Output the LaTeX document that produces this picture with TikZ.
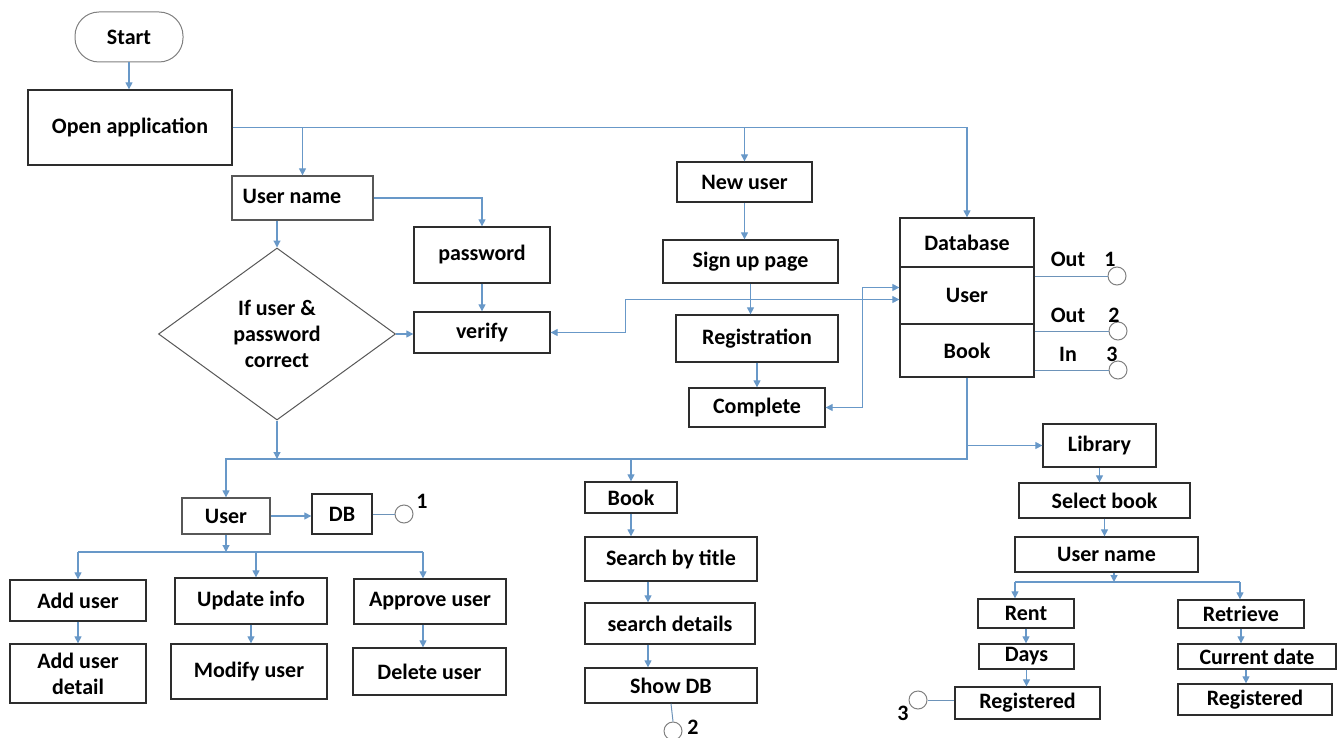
\documentclass[tikz,border=0pt]{standalone}
\usepackage{fontspec}
\setmainfont{Carlito}
\usetikzlibrary{arrows.meta,shapes.geometric,calc}
\definecolor{lnk}{RGB}{104,152,200}
\definecolor{bdr}{RGB}{45,45,45}
\begin{document}
\begin{tikzpicture}[x=1pt,y=-1pt,
  txt/.style={font=\fontsize{22}{26}\selectfont\bfseries},
  box/.style={txt,draw=bdr,line width=1.3pt,rectangle,inner sep=0pt,align=center},
  circ/.style={circle,draw=gray,line width=1pt,minimum size=18pt,inner sep=0pt},
  lbl/.style={txt,inner sep=0pt},
  conn/.style={draw=lnk,line width=1.2pt,-{Triangle[width=7pt,length=7pt]}},
  conn2/.style={draw=lnk,line width=1.2pt,{Triangle[width=7pt,length=7pt]}-{Triangle[width=7pt,length=7pt]}},
  line/.style={draw=lnk,line width=1.2pt},
  line2/.style={draw=lnk!80!gray,line width=1pt}]
\useasboundingbox (0,0) rectangle (1340,738);

% top section
\node[txt,draw=gray,line width=1pt,rounded corners=24pt,minimum width=108pt,minimum height=50pt] (start) at (129,37) {Start};
\node[box,minimum width=204pt,minimum height=75pt] (open) at (130,127.5) {Open application};
\node[box,draw=bdr!80,minimum width=141pt,minimum height=44pt] (un) at (302.5,198) {};
\node[lbl] at (292,196) {User name};
\node[box,minimum width=136pt,minimum height=56pt] (pw) at (482,255) {password};
\node[box,minimum width=136pt,minimum height=41pt] (ver) at (482,332.5) {verify};
\node[txt,draw=bdr!80,line width=1pt,diamond,aspect=1.378,minimum width=237pt,minimum height=172pt,inner sep=0pt,align=center] (dia) at (277,334) {If user \&\\password\\correct};

\node[box,minimum width=135pt,minimum height=40pt] (nu) at (744.5,182) {New user};
\node[box,minimum width=175pt,minimum height=43pt] (su) at (750.5,261.5) {Sign up page};
\node[box,minimum width=162pt,minimum height=47pt] (reg) at (757,338.5) {Registration};
\node[box,minimum width=136pt,minimum height=39pt] (comp) at (757,407.5) {Complete};

\node[box,minimum width=134pt,minimum height=49pt] (dbt) at (967,242.5) {Database};
\node[box,minimum width=134pt,minimum height=57pt] (dbu) at (967,295.5) {User};
\node[box,minimum width=134pt,minimum height=53pt] (dbb) at (967,350.5) {Book};

\node[circ] (c4) at (1117,276) {};
\node[circ] (c5) at (1118,331) {};
\node[circ] (c6) at (1118,370) {};
\node[lbl] at (1068,259) {Out};
\node[lbl] at (1110,259) {1};
\node[lbl] at (1068,315) {Out};
\node[lbl] at (1114,315) {2};
\node[lbl] at (1068,354) {In};
\node[lbl] at (1112,354) {3};

% lower left
\node[box,draw=bdr!80,minimum width=88pt,minimum height=36pt] (uu) at (226,516) {User};
\node[box,minimum width=60pt,minimum height=40pt] (udb) at (342,514) {DB};
\node[circ] (c1) at (404,514) {};
\node[lbl] at (422,501) {1};
\node[box,minimum width=136pt,minimum height=41pt] (add) at (78,600.5) {Add user};
\node[box,minimum width=136pt,minimum height=59pt] (addd) at (78,673.5) {Add user\\detail};
\node[box,minimum width=152pt,minimum height=46pt] (upd) at (251,601) {Update info};
\node[box,minimum width=156pt,minimum height=55pt] (mod) at (249,671.5) {Modify user};
\node[box,minimum width=152pt,minimum height=45pt] (app) at (430,601.5) {Approve user};
\node[box,minimum width=153pt,minimum height=47pt] (del) at (429.5,671.5) {Delete user};

% middle column
\node[box,minimum width=92pt,minimum height=31pt] (bk) at (631,497.5) {Book};
\node[box,minimum width=172pt,minimum height=44pt] (st) at (671,559) {Search by title};
\node[box,minimum width=170pt,minimum height=41pt] (sd) at (670,623.5) {search details};
\node[box,minimum width=172pt,minimum height=35pt] (sh) at (671,685.5) {Show DB};
\node[circ] (c2) at (673,731) {};
\node[lbl] at (693,727) {2};

% right column
\node[box,minimum width=113pt,minimum height=43pt] (lib) at (1099.5,445.5) {Library};
\node[box,minimum width=171pt,minimum height=35pt] (sel) at (1104.5,500.5) {Select book};
\node[box,minimum width=183pt,minimum height=35pt] (un2) at (1106.5,554.5) {User name};
\node[box,minimum width=96pt,minimum height=29pt] (rent) at (1026,613.5) {Rent};
\node[box,minimum width=95pt,minimum height=25pt] (days) at (1026.5,656.5) {Days};
\node[box,minimum width=145pt,minimum height=32pt] (reg1) at (1027.5,703) {Registered};
\node[circ] (c3) at (918,700) {};
\node[lbl] at (903,713) {3};
\node[box,minimum width=126pt,minimum height=28pt] (retr) at (1241,614) {Retrieve};
\node[box,minimum width=158pt,minimum height=25pt] (cur) at (1257,656.5) {Current date};
\node[box,minimum width=154pt,minimum height=31pt] (reg2) at (1255,699.5) {Registered};

% connectors top
\draw[conn] (start.south) -- (start.south |- open.north);
\draw[conn] (open.east) -| (dbt.north);
\draw[conn] (open.east -| un.north) -- (un.north);
\draw[conn] (open.east -| nu.north) -- (nu.north);
\draw[conn] (un.east) -| (pw.north);
\draw[conn] (un.south -| dia.north) -- (dia.north);
\draw[conn] (pw.south) -- (ver.north);
\draw[conn] (dia.east) -- (dia.east -| ver.west);
\draw[conn2] (ver.east) -- ++(75,0) |- ($(dbu.west)+(0,4)$);
\draw[conn2] (comp.east) -- ++(37,0) |- ($(dbu.west)+(0,-8)$);
\draw[conn] (nu.south) -- (nu.south |- su.north);
\draw[conn] (su.south) -- (su.south |- reg.north);
\draw[conn] (reg.south) -- (comp.north);
\draw[line2] (c4 -| dbu.east) -- (c4.west);
\draw[line2] (c5 -| dbb.east) -- (c5.west);
\draw[line2] (c6 -| dbb.east) -- (c6.west);

% connectors middle
\coordinate (j1) at (967,459);
\draw[conn] (dbb.south) -- (j1) -| (uu.north);
\draw[conn] (dia.south) -- (dia.south |- j1);
\draw[conn] (j1 -| bk.north) -- (bk.north);
\draw[conn] (dbb.south |- lib.west) -- (lib.west);

% lower left connectors
\draw[conn] (uu.east) -- (uu.east -| udb.west);
\draw[line2] (udb.east) -- (c1.west);
\coordinate (h1) at (78,552);
\coordinate (h2) at (256,552);
\coordinate (h3) at (423,552);
\draw[conn] (uu.south) -- (uu.south |- h1);
\draw[line] (h1) -- (h3);
\draw[conn] (h1) -- (add.north);
\draw[conn] (h2) -- (h2 |- upd.north);
\draw[conn] (h3) -- (h3 |- app.north);
\draw[conn] (add.south) -- (addd.north);
\draw[conn] (upd.south) -- (upd.south |- mod.north);
\draw[conn] (app.south -| h3) -- (h3 |- del.north);

% book chain
\coordinate (v1) at (648,0);
\draw[conn] (bk.south) -- (bk.south |- st.north);
\draw[conn] (st.south -| v1) -- (sd.north -| v1);
\draw[conn] (sd.south -| v1) -- (sh.north -| v1);
\draw[line2] (sh.south) -- (c2.north);

% library chain
\draw[conn] (lib.south) -- (lib.south |- sel.north);
\draw[conn] (sel.south) -- (sel.south |- un2.north);
\coordinate (k0) at (1114,582);
\coordinate (k1) at (1015,582);
\coordinate (k2) at (1240,582);
\draw[conn] (un2.south -| k0) -- (k0);
\draw[line] (k1) -- (k2);
\draw[conn] (k1) -- (k1 |- rent.north);
\draw[conn] (k2) -- (k2 |- retr.north);
\draw[conn] (rent.south) -- (rent.south |- days.north);
\draw[conn] (days.south) -- (days.south |- reg1.north);
\draw[conn] (retr.south) -- (retr.south |- cur.north);
\coordinate (v2) at (1246,0);
\draw[conn] (cur.south -| v2) -- (reg2.north -| v2);
\draw[line2] (c3 -| reg1.west) -- (c3.east);
\end{tikzpicture}
\end{document}
